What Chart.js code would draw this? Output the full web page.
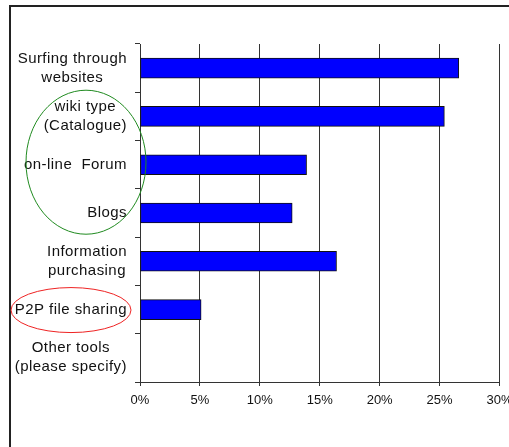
<!DOCTYPE html>
<html lang="en">
<head>
<meta charset="UTF-8">
<title>Tools used</title>
<script src="https://cdn.jsdelivr.net/npm/chart.js"></script>
<style>
  html, body { margin: 0; padding: 0; background: #fff; overflow: hidden; }
  #wrap { position: relative; width: 509px; height: 447px; overflow: hidden; }
  #frame { position: absolute; left: 9px; top: 5px; width: 560px; height: 500px;
           border-left: 2px solid #222; border-top: 2px solid #222; }
  #box { position: absolute; left: 0; top: 0; width: 540px; height: 447px; }
</style>
</head>
<body>
<div id="wrap">
  <div id="frame"></div>
  <div id="box"><canvas id="myChart" width="540" height="447"></canvas></div>
</div>
<script>
const tools = [
  ["Surfing through", "websites"],
  ["wiki type", "(Catalogue)"],
  "on-line  Forum",
  "Blogs",
  ["Information", "purchasing"],
  "P2P file sharing",
  ["Other tools", "(please specify)"]
];
const shares = [26.6, 25.4, 13.9, 12.7, 16.4, 5.1, 0];
const pctTicks = [0, 5, 10, 15, 20, 25, 30];

// rings drawn by hand around some of the labels
const rings = [
  { row: 2, dx: -54, dy: -2.5, rx: 60, ry: 72, color: "#1f8a1f" },
  { row: 5, dx: -69, dy: 0.5, rx: 60, ry: 22.5, color: "#ee2222" }
];

// category labels: each block sits right against the axis, its lines centred on each other
const rowLabels = {
  id: "rowLabels",
  afterDraw(chart) {
    const ctx = chart.ctx;
    const y = chart.scales.y;
    const right = chart.chartArea.left - 13;
    ctx.save();
    ctx.font = "15px 'Liberation Sans', Arial, sans-serif";
    ctx.letterSpacing = "0.45px";
    ctx.fillStyle = "#111";
    ctx.textAlign = "center";
    ctx.textBaseline = "middle";
    chart.data.labels.forEach(function (lab, i) {
      const lines = Array.isArray(lab) ? lab : [lab];
      const w = Math.max.apply(Math, lines.map(l => ctx.measureText(l).width));
      const cx = right - w / 2;
      const cy = y.getPixelForValue(i);
      lines.forEach(function (l, j) {
        ctx.fillText(l, cx, cy + (j - (lines.length - 1) / 2) * 19);
      });
    });
    ctx.restore();
  }
};

const ringPlugin = {
  id: "rings",
  afterDraw(chart) {
    const ctx = chart.ctx;
    const y = chart.scales.y;
    const left = chart.chartArea.left;
    ctx.save();
    ctx.lineWidth = 1;
    rings.forEach(function (r) {
      ctx.strokeStyle = r.color;
      ctx.beginPath();
      ctx.ellipse(left + r.dx, y.getPixelForValue(r.row) + r.dy, r.rx, r.ry, 0, 0, Math.PI * 2);
      ctx.stroke();
    });
    ctx.restore();
  }
};

const data = {
  labels: tools,
  datasets: [{
    data: shares,
    backgroundColor: "#0000ff",
    borderColor: "#111",
    borderWidth: 1,
    borderSkipped: false,
    barThickness: 20
  }]
};

const config = {
  type: "bar",
  data: data,
  plugins: [rowLabels, ringPlugin],
  options: {
    indexAxis: "y",
    responsive: false,
    animation: false,
    layout: { padding: { left: 0, top: 44, right: 40.5, bottom: 35 } },
    plugins: { legend: { display: false }, tooltip: { enabled: false } },
    scales: {
      x: {
        min: 0,
        max: 30,
        afterBuildTicks(scale) { scale.ticks = pctTicks.map(v => ({ value: v })); },
        afterFit(scale) { scale.height = 30; },
        grid: { color: "#333", lineWidth: 1, drawTicks: true, tickLength: 4 },
        border: { display: true, color: "#333", width: 1 },
        ticks: {
          color: "#111",
          padding: 7,
          maxRotation: 0,
          font: { family: "'Liberation Sans', Arial, sans-serif", size: 13 },
          callback: v => v + "%"
        }
      },
      y: {
        afterFit(scale) { scale.width = 140; },
        grid: { offset: true, drawOnChartArea: false, drawTicks: true, tickLength: 5, color: "#333" },
        border: { display: true, color: "#333", width: 1 },
        ticks: { display: false }
      }
    }
  }
};

const myChart = new Chart(document.getElementById("myChart"), config);
</script>
</body>
</html>
